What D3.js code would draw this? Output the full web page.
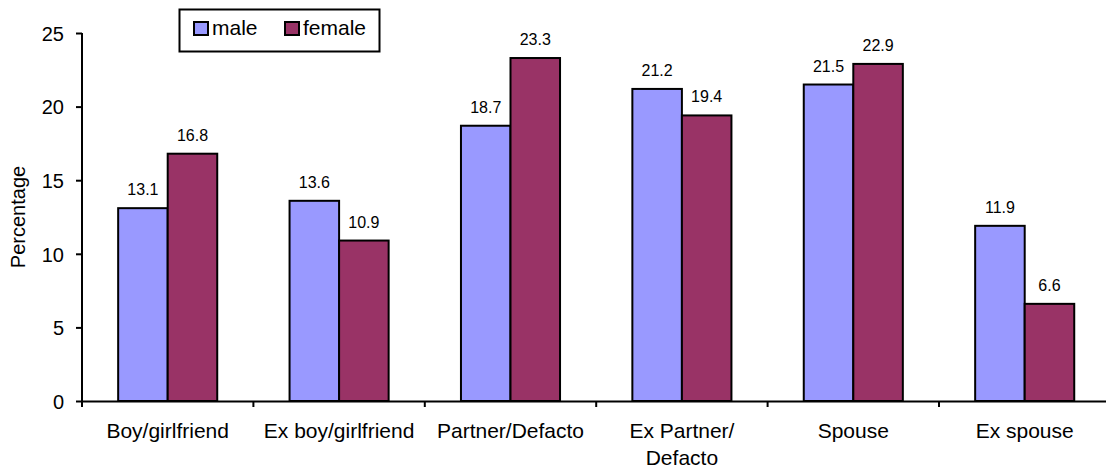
<!DOCTYPE html>
<html>
<head>
<meta charset="utf-8">
<script src="https://cdn.jsdelivr.net/npm/d3@7"></script>
<style>
  html, body { margin: 0; padding: 0; background: #fff; }
  svg { display: block; font-family: "Liberation Sans", Arial, sans-serif; }
</style>
</head>
<body>
<svg id="chart" width="1106" height="470"></svg>
<script>
// Relationship to offender, by sex (percentage)
const categories = ["Boy/girlfriend", "Ex boy/girlfriend", "Partner/Defacto", "Ex Partner/\nDefacto", "Spouse", "Ex spouse"];
const seriesNames = ["male", "female"];
const maleValues = [13.1, 13.6, 18.7, 21.2, 21.5, 11.9];
const femaleValues = [16.8, 10.9, 23.3, 19.4, 22.9, 6.6];
const yTicks = [0, 5, 10, 15, 20, 25];
const colors = { male: "#9999FF", female: "#993366" };

const svg = d3.select("#chart");
const plotLeft = 82, plotBottom = 401, plotTop = 33;
const bandW = 171.4;

const x = d3.scaleBand().domain(categories).range([plotLeft, plotLeft + bandW * categories.length]).padding(0);
const y = d3.scaleLinear().domain([0, 25]).range([plotBottom, plotTop]);
const sub = d3.scaleBand().domain(seriesNames).range([0, x.bandwidth()]).paddingInner(0).paddingOuter(0.73);

const rows = categories.map((c, i) => ({ cat: c, male: maleValues[i], female: femaleValues[i] }));

// bars
const groups = svg.append("g").selectAll("g").data(rows).join("g")
  .attr("transform", d => `translate(${x(d.cat)},0)`);

groups.selectAll("rect").data(d => seriesNames.map(s => ({ s, v: d[s] }))).join("rect")
  .attr("x", d => sub(d.s))
  .attr("y", d => y(d.v))
  .attr("width", sub.bandwidth())
  .attr("height", d => y(0) - y(d.v))
  .attr("fill", d => colors[d.s])
  .attr("stroke", "#000")
  .attr("stroke-width", 2);

groups.selectAll("text.val").data(d => seriesNames.map(s => ({ s, v: d[s] }))).join("text")
  .attr("class", "val")
  .attr("x", d => sub(d.s) + sub.bandwidth() / 2)
  .attr("y", d => y(d.v) - 13)
  .attr("text-anchor", "middle")
  .attr("font-size", 16)
  .attr("fill", "#000")
  .text(d => d.v.toFixed(1));

// y axis
const yAxis = svg.append("g").attr("transform", `translate(${plotLeft},0)`)
  .call(d3.axisLeft(y).tickValues(yTicks).tickSize(6).tickPadding(12).tickFormat(d3.format("d")));
yAxis.select(".domain").attr("stroke", "#000").attr("stroke-width", 2).attr("d", `M0,${plotBottom}V${plotTop}`);
yAxis.selectAll(".tick line").attr("stroke", "#000").attr("stroke-width", 2);
yAxis.selectAll(".tick text").attr("font-size", 20).attr("fill", "#000")
  .attr("font-family", "Liberation Sans, Arial, sans-serif").attr("dy", "0.36em");

// x axis
const xAxis = svg.append("g").attr("transform", `translate(0,${plotBottom})`)
  .call(d3.axisBottom(x).tickSize(0).tickFormat(""));
xAxis.select(".domain").attr("stroke", "#000").attr("stroke-width", 2);
xAxis.selectAll(".tick").remove();
// category boundary ticks
const bounds = d3.range(categories.length + 1).map(i => x.range()[0] + i * x.step());
xAxis.selectAll("line.bt").data(bounds).join("line")
  .attr("class", "bt")
  .attr("x1", d => d).attr("x2", d => d)
  .attr("y1", 0).attr("y2", 6)
  .attr("stroke", "#000").attr("stroke-width", 2);

// category labels
const labels = svg.append("g").selectAll("text").data(categories).join("text")
  .attr("x", d => x(d) + x.bandwidth() / 2)
  .attr("y", 438)
  .attr("text-anchor", "middle")
  .attr("font-size", 21)
  .attr("fill", "#000");
labels.each(function(d) {
  const t = d3.select(this);
  d.split("\n").forEach((line, i) => {
    t.append("tspan").attr("x", t.attr("x")).attr("dy", i === 0 ? 0 : 27).text(line);
  });
});

// y title
svg.append("text")
  .attr("transform", `translate(25,${(plotTop + plotBottom) / 2}) rotate(-90)`)
  .attr("text-anchor", "middle")
  .attr("font-size", 20)
  .attr("fill", "#000")
  .text("Percentage");

// legend
const legend = svg.append("g");
legend.append("rect").attr("x", 179.5).attr("y", 9.5).attr("width", 200).attr("height", 42)
  .attr("fill", "#fff").attr("stroke", "#000").attr("stroke-width", 2);
const legendX = [194, 285];
seriesNames.forEach((s, i) => {
  legend.append("rect").attr("x", legendX[i]).attr("y", 22).attr("width", 14).attr("height", 13)
    .attr("fill", colors[s]).attr("stroke", "#000").attr("stroke-width", 2);
  legend.append("text").attr("x", legendX[i] + 18).attr("y", 35)
    .attr("font-size", 21).attr("fill", "#000").text(s);
});
</script>
</body>
</html>
